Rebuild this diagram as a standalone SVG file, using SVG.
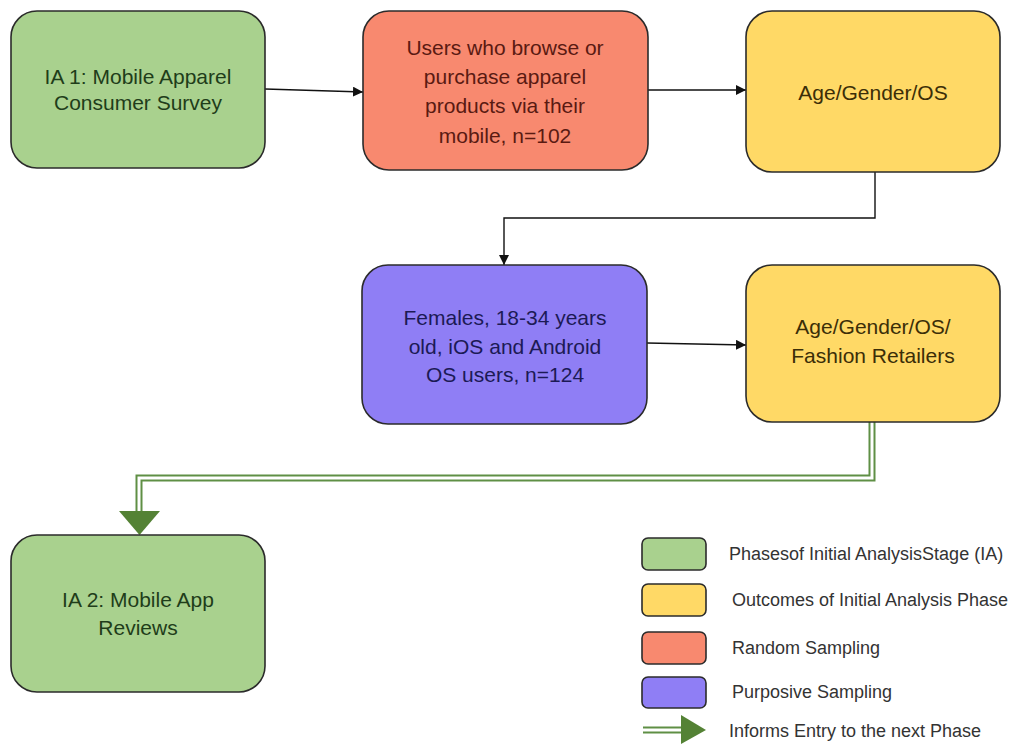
<svg xmlns="http://www.w3.org/2000/svg" width="1018" height="753" viewBox="0 0 1018 753">
  <defs>
    <marker id="arrow" viewBox="0 0 10 10" refX="10" refY="5" markerWidth="10" markerHeight="10" markerUnits="userSpaceOnUse" orient="auto">
      <path d="M0,0 L10,5 L0,10 Z" fill="#111"/>
    </marker>
    <style>
      .box { stroke: #2b2b2b; stroke-width: 1.6; }
      .green { fill: #a9d18e; }
      .yellow { fill: #ffd966; }
      .red { fill: #f8896f; }
      .purple { fill: #8f7ef5; }
      .label { font-family: "Liberation Sans", Arial, sans-serif; font-size: 21px; text-anchor: middle; }
      .t-green { fill: #1f3d1a; }
      .t-red { fill: #5a1a12; }
      .t-yellow { fill: #3b2e08; }
      .t-purple { fill: #1c1a55; }
      .line { fill: none; stroke: #111; stroke-width: 1.4; }
      .dbl-outer { fill: none; stroke: #5f8f45; stroke-width: 7; }
      .dbl-inner { fill: none; stroke: #ffffff; stroke-width: 3; }
      .head { fill: #548235; }
      .legend { font-family: "Liberation Sans", Arial, sans-serif; font-size: 18px; fill: #333; }
    </style>
  </defs>

  <rect width="1018" height="753" fill="#ffffff"/>

  <!-- connectors -->
  <g id="connectors">
    <path class="line" d="M265,89 L363,92" marker-end="url(#arrow)"/>
    <path class="line" d="M648,90 L746,90" marker-end="url(#arrow)"/>
    <path class="line" d="M875,172 L875,218 L504,218 L504,265" marker-end="url(#arrow)"/>
    <path class="line" d="M647,343 L746,345" marker-end="url(#arrow)"/>
    <path class="dbl-outer" d="M872,422 L872,478 L139,478 L139,515"/>
    <path class="dbl-inner" d="M872,422 L872,478 L139,478 L139,516"/>
    <path class="head" d="M119,511 L160,511 L139.5,535 Z"/>
  </g>

  <g id="ia1">
    <rect class="box green" x="11" y="11" width="254" height="157" rx="26"/>
    <text class="label t-green" x="138" y="84">IA 1: Mobile Apparel</text>
    <text class="label t-green" x="138" y="110">Consumer Survey</text>
  </g>

  <g id="random-sample">
    <rect class="box red" x="363" y="11" width="285" height="159" rx="26"/>
    <text class="label t-red" x="505" y="55">Users who browse or</text>
    <text class="label t-red" x="505" y="84">purchase apparel</text>
    <text class="label t-red" x="505" y="113">products via their</text>
    <text class="label t-red" x="505" y="143">mobile, n=102</text>
  </g>

  <g id="outcome1">
    <rect class="box yellow" x="746" y="11" width="254" height="161" rx="26"/>
    <text class="label t-yellow" x="873" y="100">Age/Gender/OS</text>
  </g>

  <g id="purposive-sample">
    <rect class="box purple" x="362" y="265" width="285" height="159" rx="26"/>
    <text class="label t-purple" x="505" y="325">Females, 18-34 years</text>
    <text class="label t-purple" x="505" y="354">old, iOS and Android</text>
    <text class="label t-purple" x="505" y="382">OS users, n=124</text>
  </g>

  <g id="outcome2">
    <rect class="box yellow" x="746" y="265" width="254" height="157" rx="26"/>
    <text class="label t-yellow" x="873" y="334">Age/Gender/OS/</text>
    <text class="label t-yellow" x="873" y="363">Fashion Retailers</text>
  </g>

  <g id="ia2">
    <rect class="box green" x="11" y="535" width="254" height="157" rx="26"/>
    <text class="label t-green" x="138" y="607">IA 2: Mobile App</text>
    <text class="label t-green" x="138" y="635">Reviews</text>
  </g>

  <!-- legend -->
  <g id="legend">
    <rect class="box green" x="642" y="538" width="64" height="32" rx="6"/>
    <text class="legend" x="729" y="560">Phasesof Initial AnalysisStage (IA)</text>
    <rect class="box yellow" x="642" y="584" width="64" height="32" rx="6"/>
    <text class="legend" x="732" y="606">Outcomes of Initial Analysis Phase</text>
    <rect class="box red" x="642" y="632" width="64" height="32" rx="6"/>
    <text class="legend" x="732" y="654">Random Sampling</text>
    <rect class="box purple" x="642" y="677" width="64" height="31" rx="6"/>
    <text class="legend" x="732" y="698">Purposive Sampling</text>
    <path class="dbl-outer" d="M643,730 L682,730"/>
    <path class="dbl-inner" d="M643,730 L683,730"/>
    <path class="head" d="M681,715 L706,730 L681,744 Z"/>
    <text class="legend" x="729" y="737">Informs Entry to the next Phase</text>
  </g>
</svg>
